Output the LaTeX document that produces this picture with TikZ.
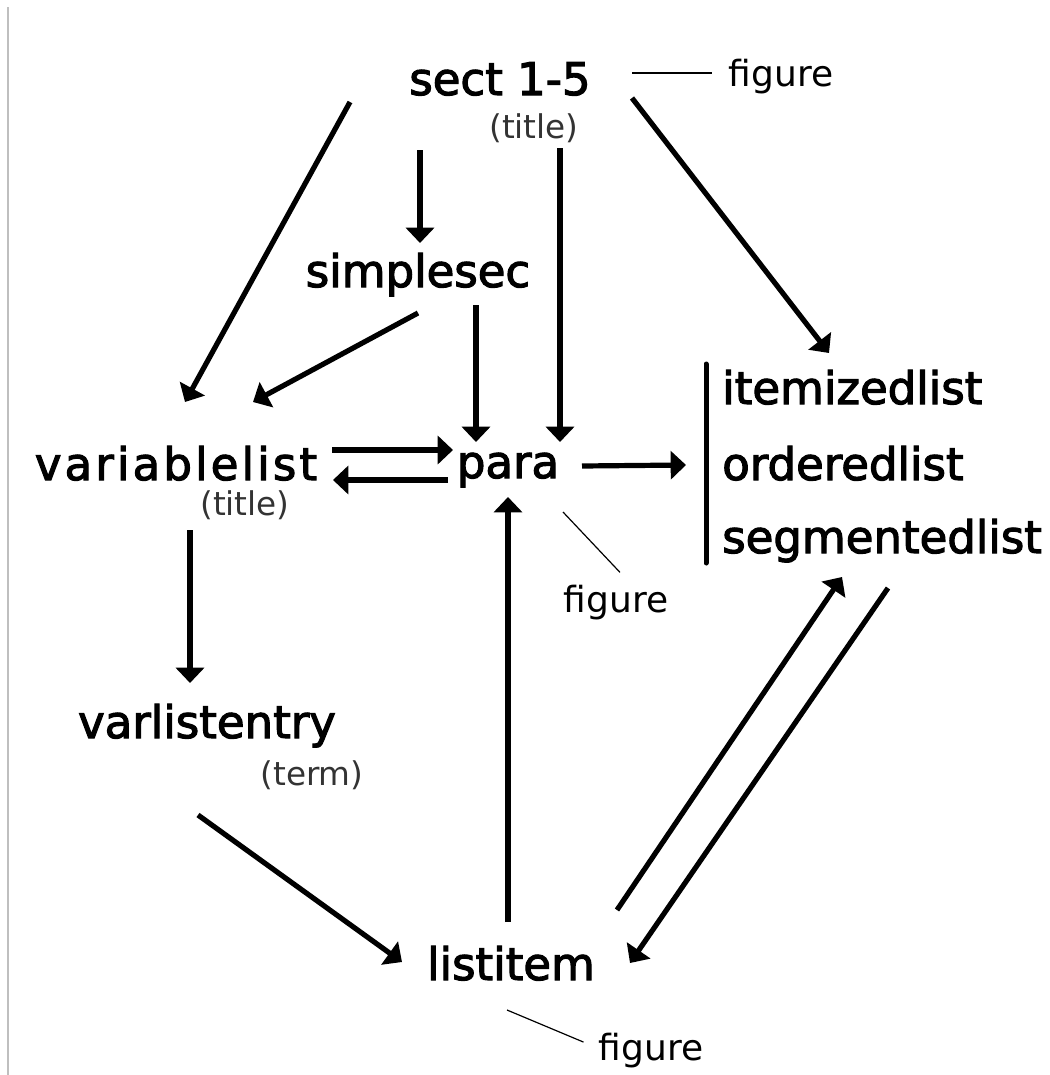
\documentclass[tikz,border=0pt]{standalone}
\usepackage{fontspec}
\usepackage{tikz}
\usetikzlibrary{arrows.meta,calc}
\setmainfont{DejaVu Sans}
\newfontfamily\heavyfont{DejaVu Sans}[FakeBold=2.5]
\newfontfamily\wideheavyfont{DejaVu Sans}[FakeBold=2.5, LetterSpace=7]

\tikzset{
  elem/.style={font=\heavyfont\fontsize{33.75}{40}\selectfont, inner sep=0pt, anchor=base},
  wideelem/.style={elem, font=\wideheavyfont\fontsize{33.75}{40}\selectfont},
  attr/.style={font=\fontsize{24.5}{30}\selectfont, text=black!80, inner sep=0pt, anchor=base},
  note/.style={font=\fontsize{27}{32}\selectfont, inner sep=0pt, anchor=base},
  link/.style={line width=3.9pt, -{Triangle[length=11.5pt,width=21pt]}},
  pointer/.style={line width=0.9pt}
}

\begin{document}
\begin{tikzpicture}[x=0.75pt,y=-0.75pt]
    \useasboundingbox (0,0) rectangle (1050,1075);
    % Page edge
    \draw[line width=1.5pt, black!25] (8,7) -- (8,1075);

    % Elements
    \node[elem] (sect) at (500,95) {sect 1-5};
    \node[attr] (secttitle) at (534,138) {(title)};
    \node[elem] (simplesec) at (418,287) {simplesec};
    \node[wideelem] (varlist) at (176,480) {variablelist};
    \node[attr] (varlisttitle) at (245,515) {(title)};
    \node[elem] (para) at (508,478) {para};
    \node[elem, anchor=base west] (itemized) at (722,404) {itemizedlist};
    \node[elem, anchor=base west] (ordered) at (722,480) {orderedlist};
    \node[elem, anchor=base west] (segmented) at (722,553) {segmentedlist};
    \node[elem] (varentry) at (207,738) {varlistentry};
    \node[attr] (term) at (312,785) {(term)};
    \node[elem] (listitem) at (511,980) {listitem};

    % Figure notes
    \node[note] (sectfig) at (781,86) {figure};
    \node[note] (parafig) at (616,612) {figure};
    \node[note] (itemfig) at (651,1060) {figure};
    \draw[pointer] ($(sectfig.west)+(-96,-3)$) -- ($(sectfig.west)+(-16,-3)$);
    \draw[pointer] ($(para.base)+(55,34)$) -- ($(parafig.north)+(4,-12)$);
    \draw[pointer] ($(listitem.base)+(-4,30)$) -- ($(itemfig.west)+(-15,-8)$);

    % List group bar
    \draw[line width=3.75pt, line cap=round] (706,364) -- (706,563);

    % Links
    \draw[link] ($(sect.base)+(-150,7)$) -- ($(varlist.base)+(9,-78)$);
    \draw[link] ($(sect.base)+(-80,55)$) -- ($(simplesec.base)+(2,-44)$);
    \draw[link] ($(secttitle.base)+(26,10)$) -- ($(para.base)+(52,-36)$);
    \draw[link] ($(sect.base)+(132,3)$) -- ($(itemized.base west)+(107,-51)$);
    \draw[link] ($(simplesec.base)+(0,26)$) -- ($(varlist.base)+(77,-78)$);
    \draw[link] ($(simplesec.base)+(58,18)$) -- ($(para.base)+(-32,-36)$);
    \draw[link] ($(varlist.base)+(156,-30)$) -- ($(para.base)+(-55,-28)$);
    \draw[link] ($(para.base)+(-60,2)$) -- ($(varlist.base)+(157,0)$);
    \draw[link] ($(para.base)+(74,-12)$) -- ($(ordered.base west)+(-36,-15)$);
    \draw[link] ($(varlisttitle.base)+(-55,15)$) -- ($(varentry.base)+(-17,-55)$);
    \draw[link] ($(varentry.base)+(-9,77)$) -- ($(listitem.base)+(-109,-18)$);
    \draw[link] ($(listitem.base)+(-3,-58)$) -- ($(para.base)+(0,19)$);
    \draw[link] ($(listitem.base)+(106,-70)$) -- ($(segmented.base west)+(120,24)$);
    \draw[link] ($(segmented.base west)+(166,35)$) -- ($(listitem.base)+(119,-17)$);
\end{tikzpicture}
\end{document}
